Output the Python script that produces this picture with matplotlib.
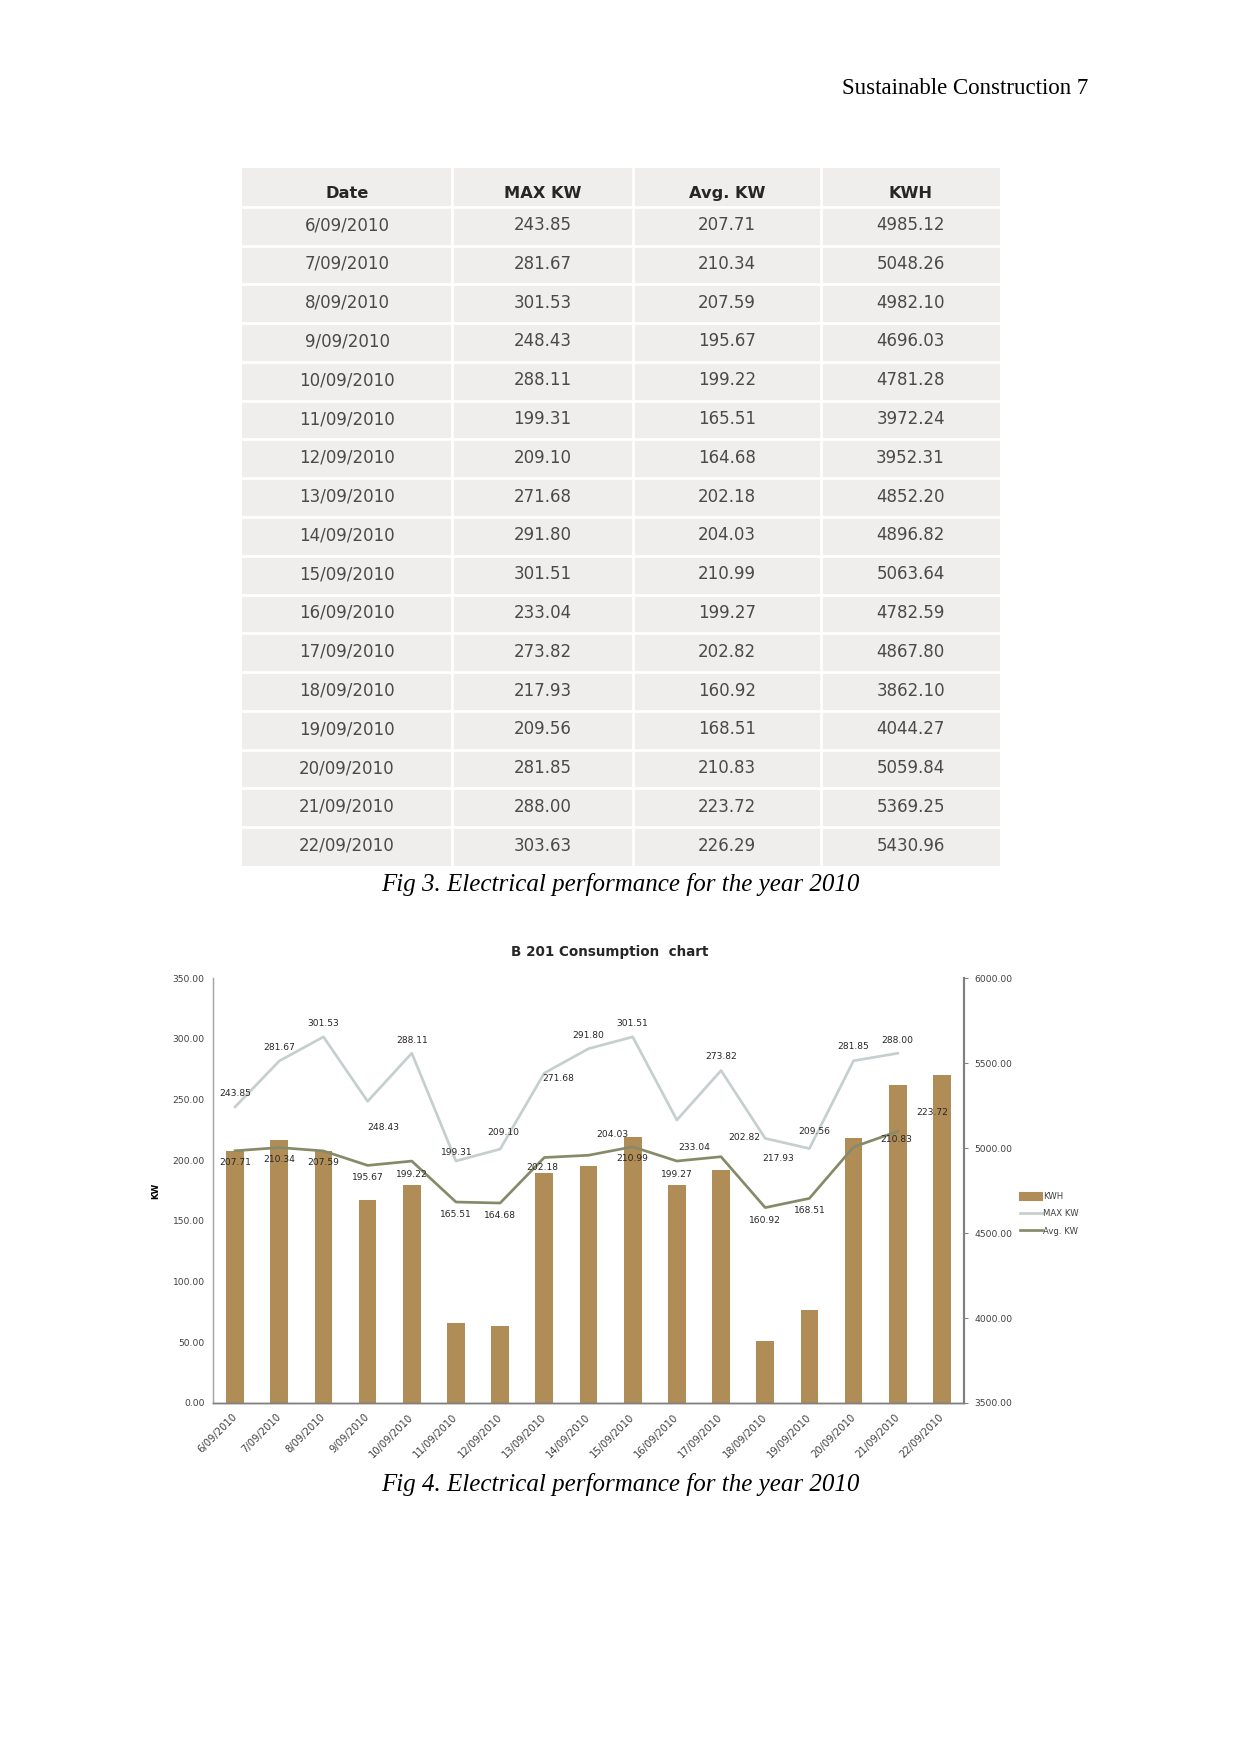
import matplotlib.pyplot as plt
from matplotlib.patches import Patch
from matplotlib.lines import Line2D
import numpy as np

# page size in pixels (A4 at 150 dpi)
W, H = 1241, 1754
DPI = 150

# data (Fig 3 table / Fig 4 chart)
dates = ['6/09/2010', '7/09/2010', '8/09/2010', '9/09/2010', '10/09/2010',
         '11/09/2010', '12/09/2010', '13/09/2010', '14/09/2010', '15/09/2010',
         '16/09/2010', '17/09/2010', '18/09/2010', '19/09/2010', '20/09/2010',
         '21/09/2010', '22/09/2010']
max_kw = [243.85, 281.67, 301.53, 248.43, 288.11, 199.31, 209.10, 271.68, 291.80,
          301.51, 233.04, 273.82, 217.93, 209.56, 281.85, 288.00, 303.63]
avg_kw = [207.71, 210.34, 207.59, 195.67, 199.22, 165.51, 164.68, 202.18, 204.03,
          210.99, 199.27, 202.82, 160.92, 168.51, 210.83, 223.72, 226.29]
kwh = [4985.12, 5048.26, 4982.10, 4696.03, 4781.28, 3972.24, 3952.31, 4852.20,
       4896.82, 5063.64, 4782.59, 4867.80, 3862.10, 4044.27, 5059.84, 5369.25, 5430.96]
headers = ['Date', 'MAX KW', 'Avg. KW', 'KWH']

# the chart's lines stop one day early (last row left out of the line range)
n_line = 16

# label offsets in pixels (dx, dy up), as placed in the original chart
max_off = [(0, 13), (0, 13), (0, 13), (16, -26), (0, 13), (1, 8), (3, 17), (14, -5),
           (0, 13), (0, 13), (17, -27), (0, 14), (13, -20), (5, 17), (0, 14), (0, 13)]
avg_off = [(0, -12), (0, -12), (0, -12), (0, -12), (0, -13), (0, -12), (0, -12), (-2, -10),
           (24, 21), (0, -12), (0, -13), (23, 19), (0, -13), (0, -12), (43, 7), (35, 19)]

bar_color = '#B08D57'
max_color = '#C6CFCF'
avg_color = '#878A69'

fig = plt.figure(figsize=(W / DPI, H / DPI), dpi=DPI)

# page layer in pixel coordinates
page = fig.add_axes([0, 0, 1, 1])
page.set_xlim(0, W)
page.set_ylim(H, 0)
page.axis('off')

serif = 'Liberation Serif'
page.text(1088, 88, 'Sustainable Construction 7', ha='right', va='center',
          family=serif, fontsize=11)
page.text(620, 884, 'Fig 3. Electrical performance for the year 2010', ha='center',
          va='center', family=serif, style='italic', fontsize=12)
page.text(620, 1484, 'Fig 4. Electrical performance for the year 2010', ha='center',
          va='center', family=serif, style='italic', fontsize=12)

# table
tx0, tx1, ty0, ty1 = 242, 1000, 168, 866
col_edges = [242, 452, 633, 821, 1000]
nrows = len(dates) + 1
rh = (ty1 - ty0) / nrows
page.add_patch(plt.Rectangle((tx0, ty0), tx1 - tx0, ty1 - ty0, color='#EFEEEC', lw=0))
for xe in col_edges[1:-1]:
    page.plot([xe, xe], [ty0, ty1], color='white', lw=1.3)
for k in range(1, nrows):
    page.plot([tx0, tx1], [ty0 + k * rh, ty0 + k * rh], color='white', lw=1.3)

centers = [(col_edges[i] + col_edges[i + 1]) / 2 for i in range(4)]
for c, h in zip(centers, headers):
    page.text(c, ty0 + 0.5 * rh + 6, h, ha='center', va='center', fontsize=7.8,
              fontweight='bold', color='#262626')
for r in range(len(dates)):
    yc = ty0 + (r + 1.5) * rh - 1
    vals = [dates[r], f'{max_kw[r]:.2f}', f'{avg_kw[r]:.2f}', f'{kwh[r]:.2f}']
    for c, v in zip(centers, vals):
        page.text(c, yc, v, ha='center', va='center', fontsize=8, color='#4a4a4a')

# chart: bars on the base axes (KWH scale, right), lines on the twin (KW scale, left)
ax = fig.add_axes([213 / W, 1 - 1403 / H, (964 - 213) / W, (1403 - 978) / H])
ax.patch.set_alpha(0)
x = np.arange(len(dates))
ax.bar(x, kwh, width=0.4, color=bar_color, zorder=2)
ax.set_ylim(3500, 6000)
ax.set_xlim(-0.5, len(dates) - 0.5)
ax.set_xticks(x)
ax.set_xticklabels(dates, rotation=45, ha='right', va='center', rotation_mode='anchor')
ax.tick_params(axis='x', length=0, pad=6, labelsize=4.8, labelcolor='#404040')

ax2 = ax.twinx()
# twinx moves the base ticks to the left, so put them back on the right
ax.yaxis.tick_right()
ax.set_yticks(np.arange(3500, 6001, 500))
ax.set_yticklabels([f'{v:.2f}' for v in np.arange(3500, 6001, 500)])
ax.tick_params(axis='y', length=2, width=0.5, color='#808080', pad=3,
               labelsize=4.4, labelcolor='#404040')

ax2.yaxis.tick_left()
ax2.yaxis.set_label_position('left')
ax2.plot(x[:n_line], max_kw[:n_line], color=max_color, lw=1.3)
ax2.plot(x[:n_line], avg_kw[:n_line], color=avg_color, lw=1.3)
ax2.set_ylim(0, 350)
ax2.set_yticks(np.arange(0, 351, 50))
ax2.set_yticklabels([f'{v:.2f}' for v in np.arange(0, 351, 50)])
ax2.tick_params(axis='y', length=0, pad=4, labelsize=4.4, labelcolor='#404040')
ax2.set_ylabel('KW', fontsize=4.2, fontweight='bold', labelpad=6)

for i in range(n_line):
    ax2.annotate(f'{max_kw[i]:.2f}', (x[i], max_kw[i]), xytext=max_off[i],
                 textcoords='offset pixels', ha='center', va='center',
                 fontsize=4.4, color='#262626')
    ax2.annotate(f'{avg_kw[i]:.2f}', (x[i], avg_kw[i]), xytext=avg_off[i],
                 textcoords='offset pixels', ha='center', va='center',
                 fontsize=4.4, color='#262626')

for a in (ax, ax2):
    a.spines['top'].set_visible(False)
    a.spines['left'].set_color('#A6A6A6')
    a.spines['left'].set_linewidth(0.6)
    a.spines['right'].set_color('#808080')
    a.spines['right'].set_linewidth(1.0)
    a.spines['bottom'].set_color('#808080')
    a.spines['bottom'].set_linewidth(0.7)

fig.text(610 / W, 1 - 952 / H, 'B 201 Consumption  chart', ha='center', va='center',
         fontsize=6.5, fontweight='bold', color='#262626')

handles = [Patch(color=bar_color), Line2D([], [], color=max_color, lw=1.3),
           Line2D([], [], color=avg_color, lw=1.3)]
fig.legend(handles, ['KWH', 'MAX KW', 'Avg. KW'], loc='upper left',
           bbox_to_anchor=(1016 / W, 1 - 1188 / H), frameon=False, fontsize=4.1,
           handlelength=2.6, handleheight=0.8, handletextpad=0.1, labelspacing=0.95,
           borderpad=0, labelcolor='#404040')

fig.savefig('out.png', dpi=DPI)
